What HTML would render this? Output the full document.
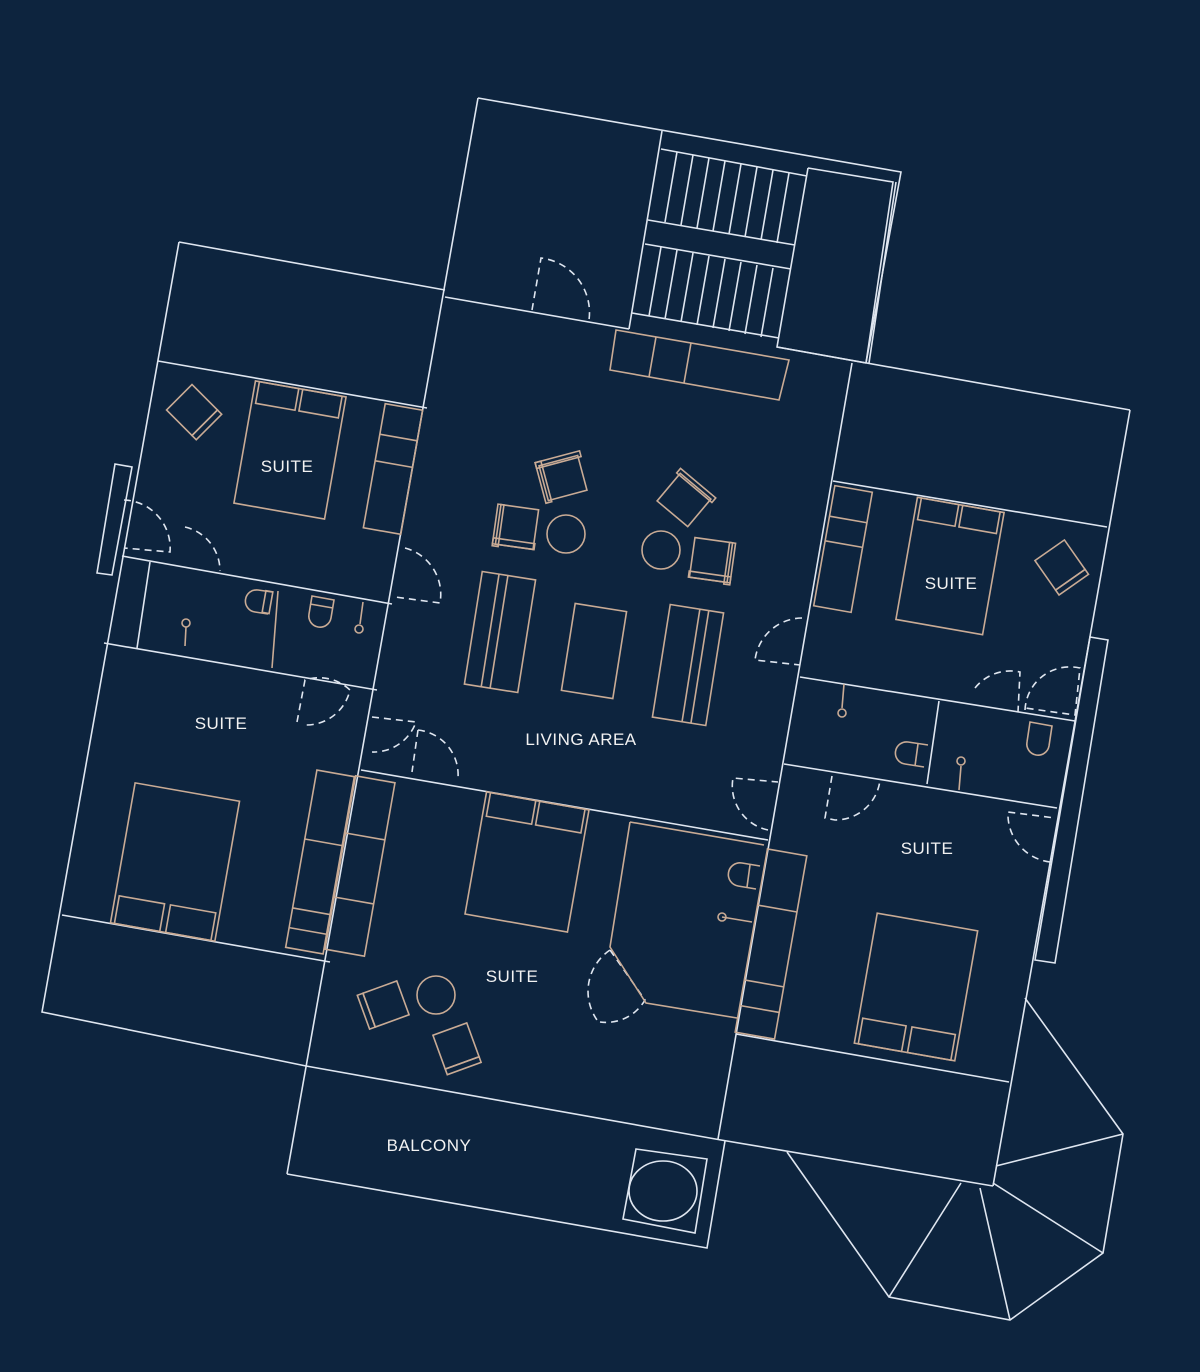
<!DOCTYPE html>
<html><head><meta charset="utf-8"><style>
html,body{margin:0;padding:0;background:#0d243e;}
svg{display:block}
.w{stroke:#dfe6f0;stroke-width:1.6;fill:none}
.f{stroke:#c9ab95;stroke-width:1.6;fill:none}
.d{stroke:#dfe6f0;stroke-width:1.6;fill:none;stroke-dasharray:7 5}
text{fill:#f2f2f2;font-family:"Liberation Sans",sans-serif;font-size:17px;letter-spacing:0.5px;text-anchor:middle}
</style></head><body>
<svg width="1200" height="1372" viewBox="0 0 1200 1372" xmlns="http://www.w3.org/2000/svg">
<rect width="1200" height="1372" fill="#0d243e"/>
<g class="w">
<polyline points="478,98 901,172 866,363"/>
<line x1="478" y1="98" x2="287" y2="1174"/>
<polyline points="287,1174 707,1248 725,1141"/>
<polyline points="179,242 445,290"/>
<polyline points="179,242 42,1012 306,1066 721,1140 993,1186"/>
<line x1="158" y1="361" x2="427" y2="408"/>
<line x1="122" y1="556" x2="392" y2="604"/>
<line x1="104" y1="643" x2="377" y2="690"/>
<line x1="150" y1="562" x2="137" y2="648"/>
<line x1="62" y1="915" x2="330" y2="962"/>
<polygon points="115,464 132,467 112,575 97,573"/>
<line x1="445" y1="297" x2="629" y2="329"/>
<line x1="777" y1="347" x2="1130" y2="410"/>
<polyline points="1130,410 993,1186"/>
<line x1="852" y1="363" x2="718" y2="1139"/>
<line x1="361" y1="770" x2="768" y2="840"/>
<line x1="833" y1="481" x2="1107" y2="527"/>
<line x1="800" y1="677" x2="1075" y2="721"/>
<line x1="784" y1="764" x2="1057" y2="808"/>
<line x1="939" y1="701" x2="927" y2="784"/>
<line x1="736" y1="1034" x2="1009" y2="1082"/>
<polygon points="1090,637 1108,640 1055,963 1035,960"/>
<line x1="662" y1="131" x2="629" y2="329"/>
<polyline points="808,168 893,182 866,363"/>
<polyline points="808,168 777,347 866,363"/>
<line x1="896" y1="182" x2="869" y2="363"/>
<line x1="661" y1="149" x2="807" y2="176"/>
<line x1="648" y1="220" x2="795" y2="245"/>
<line x1="645" y1="244" x2="791" y2="269"/>
<line x1="632" y1="313" x2="779" y2="338"/>
<polyline points="1025,998 1123,1134 1103,1253 1010,1320 889,1297 787,1152"/>
<line x1="996" y1="1166" x2="1123" y2="1134"/>
<line x1="993" y1="1183" x2="1103" y2="1253"/>
<line x1="980" y1="1188" x2="1010" y2="1320"/>
<line x1="961" y1="1183" x2="889" y2="1297"/>
<polygon points="636,1149 707,1159 695,1233 623,1219"/>
<ellipse cx="663" cy="1191" rx="34" ry="30"/>
</g>
<g class="w">
<line x1="677" y1="152" x2="665" y2="222"/><line x1="693" y1="155" x2="681" y2="225"/><line x1="709" y1="158" x2="697" y2="228"/><line x1="725" y1="161" x2="713" y2="231"/><line x1="741" y1="164" x2="729" y2="234"/><line x1="757" y1="167" x2="745" y2="237"/><line x1="773" y1="170" x2="761" y2="240"/><line x1="789" y1="173" x2="777" y2="243"/>
<line x1="661" y1="247" x2="649" y2="316"/><line x1="677" y1="250" x2="665" y2="319"/><line x1="693" y1="253" x2="681" y2="322"/><line x1="709" y1="256" x2="697" y2="325"/><line x1="725" y1="259" x2="713" y2="328"/><line x1="741" y1="262" x2="729" y2="331"/><line x1="757" y1="265" x2="745" y2="334"/><line x1="773" y1="268" x2="761" y2="337"/>
</g>
<g class="d">
<path d="M532,310 L541,258 A55,55 0 0 1 589,320"/>
<path d="M124,500 A48,48 0 0 1 170,552 L124,548"/>
<path d="M185,527 A45,45 0 0 1 220,571"/>
<path d="M405,548 A48,48 0 0 1 440,603 L395,597"/>
<path d="M297,722 L305,680 A45,45 0 0 1 350,690 A45,45 0 0 1 305,725"/>
<path d="M372,717 L416,722 A45,45 0 0 1 372,752"/>
<path d="M418,730 L412,772 M418,730 A45,45 0 0 1 458,778"/>
<path d="M802,618 A48,48 0 0 0 755,660 L800,665"/>
<path d="M768,830 A45,45 0 0 1 733,778 L778,782"/>
<path d="M832,776 L825,818 L835,820 A45,45 0 0 0 880,780"/>
<path d="M975,688 A45,45 0 0 1 1020,672 L1018,712"/>
<path d="M1025,710 A45,45 0 0 1 1080,668 L1075,715 L1025,708"/>
<path d="M1050,862 A48,48 0 0 1 1008,812 L1055,818"/>
<path d="M610,950 A50,50 0 0 0 597,1020 M610,950 L645,1000 A45,45 0 0 1 600,1022"/>
</g>
<g class="f">
<polygon points="616,330 789,360 779,400 610,370"/>
<line x1="656" y1="337" x2="649" y2="377"/><line x1="691" y1="343" x2="684" y2="383"/>
<g transform="translate(500,632) rotate(9)"><rect x="-27" y="-57" width="54" height="114"/><line x1="-10" y1="-57" x2="-10" y2="57"/><line x1="-1" y1="-57" x2="-1" y2="57"/></g>
<g transform="translate(594,651) rotate(9)"><rect x="-26" y="-44" width="52" height="88"/></g>
<g transform="translate(688,665) rotate(9)"><rect x="-27" y="-57" width="54" height="114"/><line x1="3" y1="-57" x2="3" y2="57"/><line x1="12" y1="-57" x2="12" y2="57"/></g>
<circle cx="566" cy="534" r="19"/><circle cx="661" cy="550" r="19"/>
<g transform="translate(563,478) rotate(-15)"><rect x="-20" y="-18" width="40" height="36"/><rect x="-23" y="-22" width="46" height="6"/><rect x="-23" y="-22" width="6" height="42"/></g>
<g transform="translate(517,527) rotate(8)"><rect x="-19" y="-20" width="38" height="40"/><rect x="-22" y="-20" width="6" height="42"/><rect x="-22" y="14" width="42" height="6"/></g>
<g transform="translate(684,500) rotate(40)"><rect x="-20" y="-18" width="40" height="36"/><rect x="-23" y="-22" width="46" height="6"/></g>
<g transform="translate(711,560) rotate(8)"><rect x="-19" y="-20" width="38" height="40"/><rect x="16" y="-20" width="6" height="42"/><rect x="-20" y="14" width="42" height="6"/></g>
<g transform="translate(290,450) rotate(10)"><rect x="-46" y="-62" width="92" height="124"/><rect x="-42" y="-62" width="40" height="22"/><rect x="2" y="-62" width="40" height="22"/></g>
<g transform="translate(175,862) rotate(10)"><rect x="-53" y="-71" width="106" height="142"/><rect x="-49" y="43" width="46" height="28"/><rect x="3" y="43" width="46" height="28"/></g>
<g transform="translate(527,862) rotate(10)"><rect x="-52" y="-62" width="104" height="124"/><rect x="-48" y="-62" width="46" height="24"/><rect x="2" y="-62" width="46" height="24"/></g>
<g transform="translate(950,566) rotate(10)"><rect x="-44" y="-62" width="88" height="124"/><rect x="-40" y="-62" width="38" height="22"/><rect x="2" y="-62" width="38" height="22"/></g>
<g transform="translate(916,987) rotate(10)"><rect x="-51" y="-66" width="102" height="132"/><rect x="-47" y="40" width="44" height="26"/><rect x="3" y="40" width="44" height="26"/></g>
<g transform="translate(192,410) rotate(-45)"><rect x="-18" y="-18" width="36" height="36"/><rect x="-18" y="18" width="36" height="6"/></g>
<g transform="translate(1060,565) rotate(-35)"><rect x="-18" y="-18" width="36" height="36"/><rect x="-18" y="18" width="36" height="6"/></g>
<g transform="translate(386,1004) rotate(-20)"><rect x="-18" y="-18" width="36" height="36"/><rect x="-24" y="-18" width="6" height="36"/></g>
<g transform="translate(456,1046) rotate(-20)"><rect x="-18" y="-18" width="36" height="36"/><rect x="-18" y="18" width="36" height="6"/></g>
<circle cx="436" cy="995" r="19"/>
<g transform="translate(393,469) rotate(10)"><rect x="-19" y="-63" width="38" height="126"/><line x1="-19" y1="-32" x2="19" y2="-32"/><line x1="-19" y1="-5" x2="19" y2="-5"/></g>
<g transform="translate(843,549) rotate(10)"><rect x="-19" y="-61" width="38" height="122"/><line x1="-19" y1="-30" x2="19" y2="-30"/><line x1="-19" y1="-5" x2="19" y2="-5"/></g>
<g transform="translate(320,862) rotate(10)"><rect x="-19" y="-90" width="38" height="180"/><line x1="-19" y1="-20" x2="19" y2="-20"/><line x1="-19" y1="50" x2="19" y2="50"/><line x1="-19" y1="70" x2="19" y2="70"/></g>
<g transform="translate(360,866) rotate(10)"><rect x="-20" y="-88" width="40" height="176"/><line x1="-20" y1="-30" x2="20" y2="-30"/><line x1="-20" y1="35" x2="20" y2="35"/></g>
<g transform="translate(771,944) rotate(10)"><rect x="-20" y="-93" width="40" height="186"/><line x1="-20" y1="-36" x2="20" y2="-36"/><line x1="-20" y1="40" x2="20" y2="40"/><line x1="-20" y1="66" x2="20" y2="66"/></g>
<line x1="278" y1="591" x2="272" y2="668"/>
<path d="M272,592 L258,590 A10,10 0 0 0 255,612 L268,614"/><rect x="264" y="591" width="7" height="22" transform="rotate(10 267 602)"/>
<path d="M312,596 L334,600 L331,618 A11,11 0 0 1 309,614 Z"/><line x1="310" y1="604" x2="333" y2="608"/>
<line x1="363" y1="602" x2="360" y2="624"/><circle cx="359" cy="629" r="4"/>
<line x1="185" y1="646" x2="186" y2="627"/><circle cx="186" cy="623" r="4"/>
<line x1="844" y1="684" x2="842" y2="708"/><circle cx="842" cy="713" r="4"/>
<path d="M928,745 L908,742 A11,11 0 0 0 905,764 L924,767"/><line x1="918" y1="744" x2="915" y2="766"/>
<line x1="959" y1="790" x2="961" y2="766"/><circle cx="961" cy="761" r="4"/>
<path d="M1030,722 L1052,726 L1049,746 A11,11 0 0 1 1027,742 Z"/>
<path d="M760,866 L742,863 A11,11 0 0 0 738,886 L756,889"/><line x1="750" y1="865" x2="747" y2="887"/>
<line x1="752" y1="922" x2="722" y2="917"/><circle cx="722" cy="917" r="4"/>
<polyline points="630,822 610,947 646,1003 737,1018"/>
<line x1="630" y1="822" x2="764" y2="845"/>
</g>
<text x="287" y="472">SUITE</text>
<text x="221" y="729">SUITE</text>
<text x="951" y="589">SUITE</text>
<text x="512" y="982">SUITE</text>
<text x="927" y="854">SUITE</text>
<text x="581" y="745">LIVING AREA</text>
<text x="429" y="1151">BALCONY</text>
</svg>
</body></html>
